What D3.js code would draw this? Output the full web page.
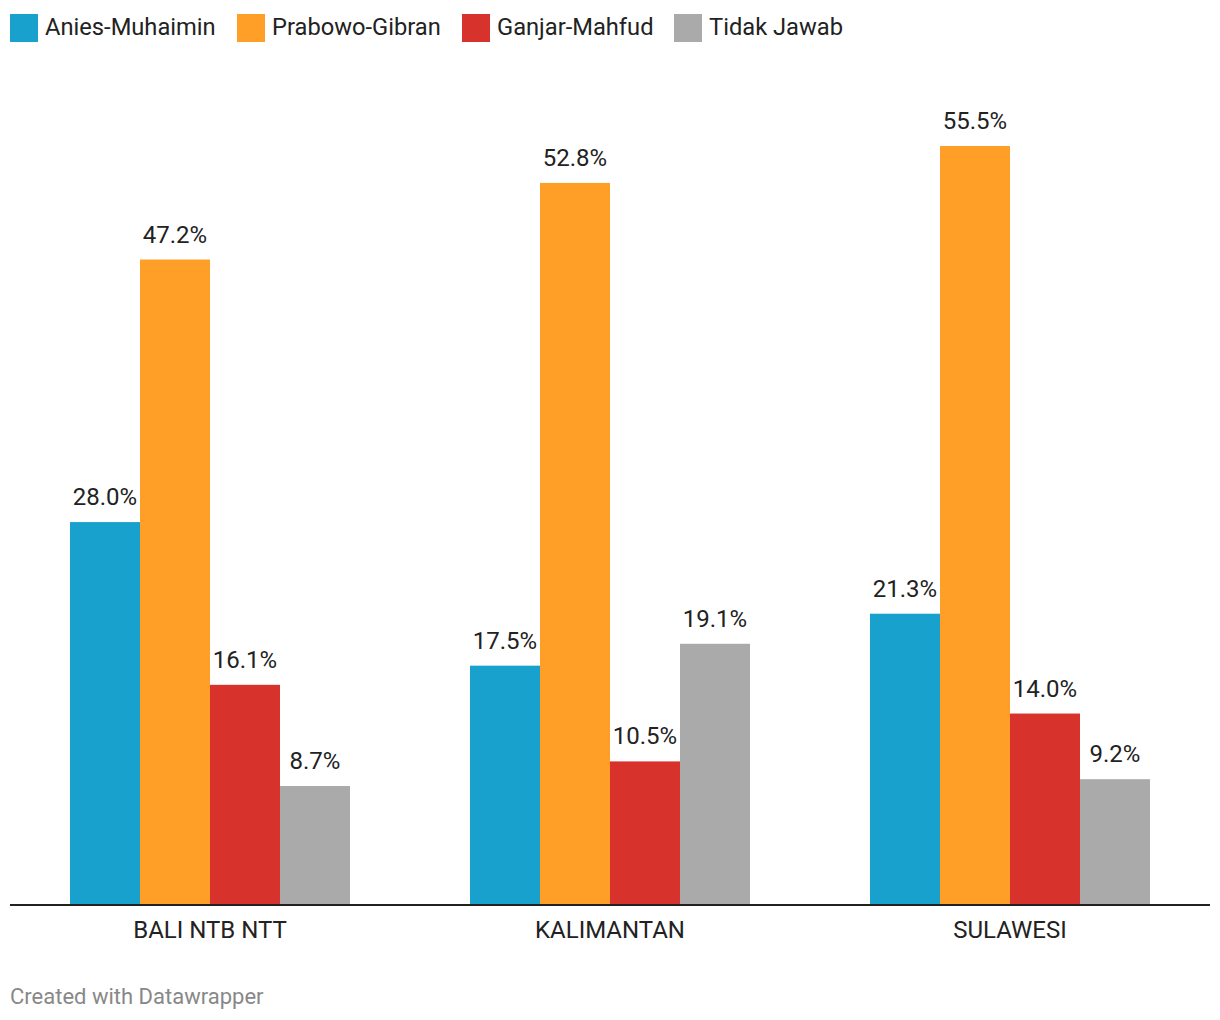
<!DOCTYPE html>
<html>
<head>
<meta charset="utf-8">
<script src="https://cdn.jsdelivr.net/npm/d3@7"></script>
<style>
  body { margin: 0; background: #fff; font-family: Roboto, "Noto Sans", sans-serif; }
  .legend text, .label, .cat text { fill: #222; }
</style>
</head>
<body>
<script>
// data
var categories = ["BALI NTB NTT", "KALIMANTAN", "SULAWESI"];
var seriesNames = ["Anies-Muhaimin", "Prabowo-Gibran", "Ganjar-Mahfud", "Tidak Jawab"];
var seriesColors = ["#18a1cd", "#ff9f27", "#d8322d", "#aaaaaa"];
var aniesValues = [28.0, 17.5, 21.3];
var prabowoValues = [47.2, 52.8, 55.5];
var ganjarValues = [16.1, 10.5, 14.0];
var tidakValues = [8.7, 19.1, 9.2];
var seriesValues = [aniesValues, prabowoValues, ganjarValues, tidakValues];

var width = 1220, height = 1020;
var baseline = 905;

var svg = d3.select("body").append("svg")
    .attr("width", width)
    .attr("height", height);

// legend
var legendX = [10, 237, 462, 674];
var legend = svg.append("g").attr("class", "legend");
seriesNames.forEach(function(name, i){
    var g = legend.append("g").attr("transform", "translate(" + legendX[i] + ",14)");
    g.append("rect").attr("width", 28).attr("height", 28).attr("fill", seriesColors[i]);
    g.append("text").attr("x", 35).attr("y", 21).style("font-size", "23.7px").text(name);
});

// scales
var x0 = d3.scaleBand()
    .domain(categories)
    .range([10, 1210])
    .paddingInner(0.3)
    .paddingOuter(0.15);

var x1 = d3.scaleBand()
    .domain(seriesNames)
    .range([0, x0.bandwidth()]);

var y = d3.scaleLinear()
    .domain([0, 55.5])
    .range([baseline, 146]);

// bars
var groups = svg.selectAll(".group")
    .data(categories)
    .enter()
    .append("g")
    .attr("class", "group")
    .attr("transform", function(d){ return "translate(" + x0(d) + ",0)"; });

groups.each(function(cat, ci){
    var g = d3.select(this);
    var vals = seriesNames.map(function(s, si){ return { s: s, v: seriesValues[si][ci], c: seriesColors[si] }; });
    g.selectAll("rect")
        .data(vals)
        .enter()
        .append("rect")
        .attr("x", function(d){ return x1(d.s); })
        .attr("width", x1.bandwidth())
        .attr("y", function(d){ return y(d.v); })
        .attr("height", function(d){ return baseline - y(d.v); })
        .attr("fill", function(d){ return d.c; });
    g.selectAll(".label")
        .data(vals)
        .enter()
        .append("text")
        .attr("class", "label")
        .attr("x", function(d){ return x1(d.s) + x1.bandwidth() / 2; })
        .attr("y", function(d){ return y(d.v) - 17; })
        .attr("text-anchor", "middle")
        .style("font-size", "24px")
        .text(function(d){ return d.v.toFixed(1) + "%"; });
});

// axis
var xAxis = d3.axisBottom(x0).tickSize(0).tickPadding(16);
var axis = svg.append("g")
    .attr("class", "cat")
    .attr("transform", "translate(0," + baseline + ")")
    .call(xAxis);
axis.select(".domain").attr("stroke", "#222").attr("stroke-width", 2)
    .attr("d", "M10,0H1210");
axis.selectAll("text").style("font-size", "24px").style("font-family", "Roboto").attr("fill", "#222");

// footer
svg.append("text")
    .attr("x", 10)
    .attr("y", 1004)
    .attr("fill", "#888")
    .style("font-size", "22px")
    .text("Created with Datawrapper");
</script>
</body>
</html>
